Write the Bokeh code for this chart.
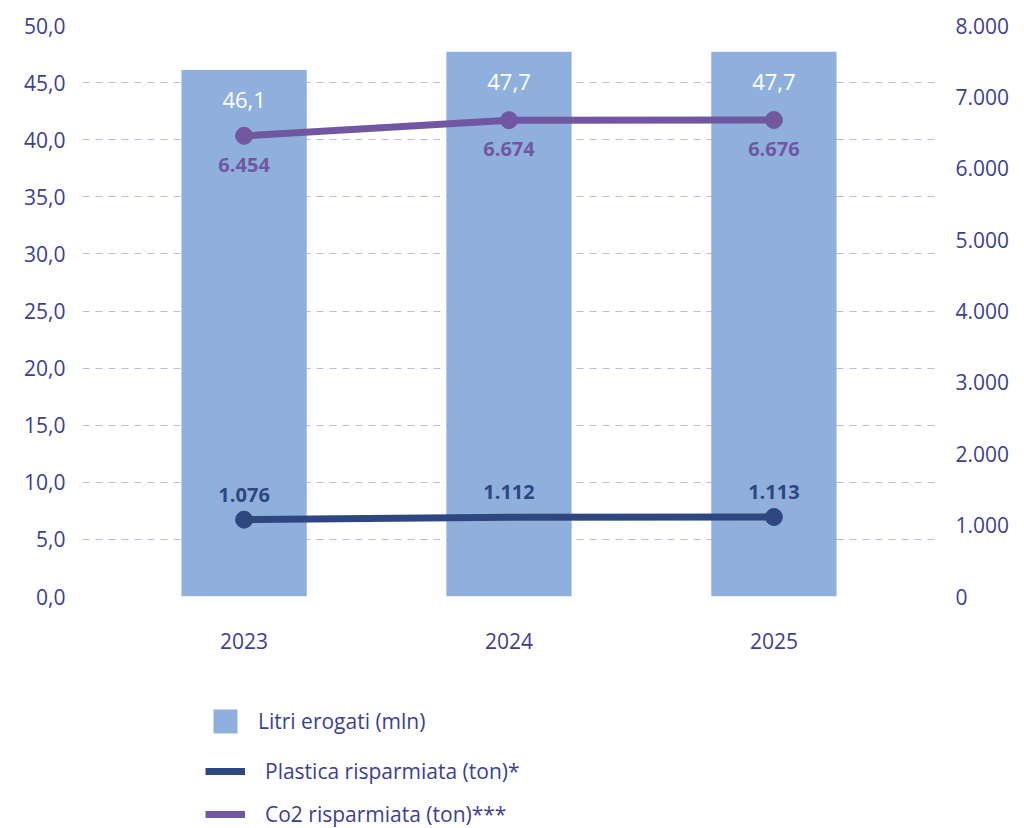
from bokeh.plotting import figure
from bokeh.models import Range1d, LinearAxis, Legend, LegendItem, ColumnDataSource, FixedTicker
from bokeh.layouts import column
from bokeh.core.properties import value
from bokeh.embed import file_html
from bokeh.resources import INLINE

years = [2023, 2024, 2025]
litri = [46.1, 47.7, 47.7]
litri_labels = ["46,1", "47,7", "47,7"]
plastica = [1076, 1112, 1113]
plastica_labels = ["1.076", "1.112", "1.113"]
co2 = [6454, 6674, 6676]
co2_labels = ["6.454", "6.674", "6.676"]
left_ticks = [0, 5, 10, 15, 20, 25, 30, 35, 40, 45, 50]
left_tick_labels = ["0,0", "5,0", "10,0", "15,0", "20,0", "25,0", "30,0", "35,0", "40,0", "45,0", "50,0"]
right_ticks = [0, 1000, 2000, 3000, 4000, 5000, 6000, 7000, 8000]
right_tick_labels = ["0", "1.000", "2.000", "3.000", "4.000", "5.000", "6.000", "7.000", "8.000"]
series_names = ["Litri erogati (mln)", "Plastica risparmiata (ton)*", "Co2 risparmiata (ton)***"]

FONT = "Open Sans"
TXT = "#3d3f95"
BAR = "#8fb0dd"
PLA = "#2e4781"
CO2 = "#7157a1"
GRID = "#c8b4de"

p = figure(width=1024, height=670, output_backend="svg", toolbar_location=None,
           x_range=Range1d(2022.39, 2025.61), y_range=Range1d(0, 50),
           min_border_left=82, min_border_right=89, min_border_top=25, min_border_bottom=74)
p.outline_line_color = None
p.background_fill_color = "white"
p.extra_y_ranges = {"right": Range1d(0, 8000)}

src = ColumnDataSource(dict(x=years, litri=litri, litri_labels=litri_labels,
                            pla=plastica, pla_labels=plastica_labels,
                            co2=co2, co2_labels=co2_labels))

p.vbar(x="x", top="litri", width=0.473, source=src, fill_color=BAR, line_color=None)
p.text(x="x", y="litri", text="litri_labels", source=src, text_color="white",
       text_font=value(FONT), text_font_size="22px", text_align="center",
       text_baseline="middle", y_offset=30)

p.line(x="x", y="pla", source=src, y_range_name="right", line_color=PLA, line_width=7)
p.scatter(x=[years[0], years[2]], y=[plastica[0], plastica[2]], y_range_name="right",
          size=17, fill_color=PLA, line_color=PLA)
p.text(x="x", y="pla", text="pla_labels", source=src, y_range_name="right", text_color=PLA,
       text_font=value(FONT), text_font_size="20px", text_font_style="bold",
       text_align="center", text_baseline="middle", y_offset=-25)

p.line(x="x", y="co2", source=src, y_range_name="right", line_color=CO2, line_width=7)
p.scatter(x="x", y="co2", source=src, y_range_name="right", size=17, fill_color=CO2, line_color=CO2)
p.text(x="x", y="co2", text="co2_labels", source=src, y_range_name="right", text_color=CO2,
       text_font=value(FONT), text_font_size="20px", text_font_style="bold",
       text_align="center", text_baseline="middle", y_offset=29)

# axes
p.xaxis.ticker = FixedTicker(ticks=years)
p.xaxis.major_label_overrides = {y: str(y) for y in years}
p.yaxis.ticker = FixedTicker(ticks=left_ticks)
p.yaxis.major_label_overrides = dict(zip(left_ticks, left_tick_labels))

ra = LinearAxis(y_range_name="right", ticker=FixedTicker(ticks=right_ticks))
ra.major_label_overrides = dict(zip(right_ticks, right_tick_labels))
p.add_layout(ra, "right")

for ax in [p.xaxis[0], p.yaxis[0], ra]:
    ax.axis_line_color = None
    ax.major_tick_line_color = None
    ax.minor_tick_line_color = None
    ax.major_tick_out = 0
    ax.major_tick_in = 0
    ax.major_label_text_color = TXT
    ax.major_label_text_font = FONT
    ax.major_label_text_font_size = "21px"
p.yaxis[0].major_label_standoff = 17
ra.major_label_standoff = 20
p.xaxis[0].major_label_standoff = 36

p.xgrid.grid_line_color = None
p.ygrid.grid_line_color = GRID
p.ygrid.grid_line_dash = "7 6"
p.ygrid.grid_line_width = 1

# legend figure (renderers carry off-screen points so their glyphs show in the legend)
lf = figure(width=1024, height=158, output_backend="svg", toolbar_location=None,
            x_range=Range1d(0, 1), y_range=Range1d(0, 1),
            min_border_left=0, min_border_right=0, min_border_top=0, min_border_bottom=0)
lf.axis.visible = False
lf.grid.visible = False
lf.outline_line_color = None
r_bar = lf.vbar(x=[-10], top=[-10], width=0.1, fill_color=BAR, line_color=None)
r_pla = lf.line(x=[-10, -11], y=[-10, -11], line_color=PLA, line_width=7)
r_co2 = lf.line(x=[-10, -11], y=[-10, -11], line_color=CO2, line_width=7)

common = dict(padding=0, margin=0, border_line_color=None, background_fill_alpha=0,
              label_text_font=FONT, label_text_font_size="21px", label_text_color=TXT,
              label_text_baseline="middle")
leg1 = Legend(items=[LegendItem(label=series_names[0], renderers=[r_bar])],
              location=(128, 92), glyph_width=30, glyph_height=30, label_standoff=18,
              label_height=28, **common)
leg2 = Legend(items=[LegendItem(label=series_names[1], renderers=[r_pla]),
                     LegendItem(label=series_names[2], renderers=[r_co2])],
              location=(123, 0), glyph_width=40, glyph_height=26, label_standoff=20,
              spacing=15, label_height=26, **common)
lf.add_layout(leg1, "center")
lf.add_layout(leg2, "center")

layout = column(p, lf, spacing=0)
open("out.html", "w").write(file_html(layout, INLINE))
